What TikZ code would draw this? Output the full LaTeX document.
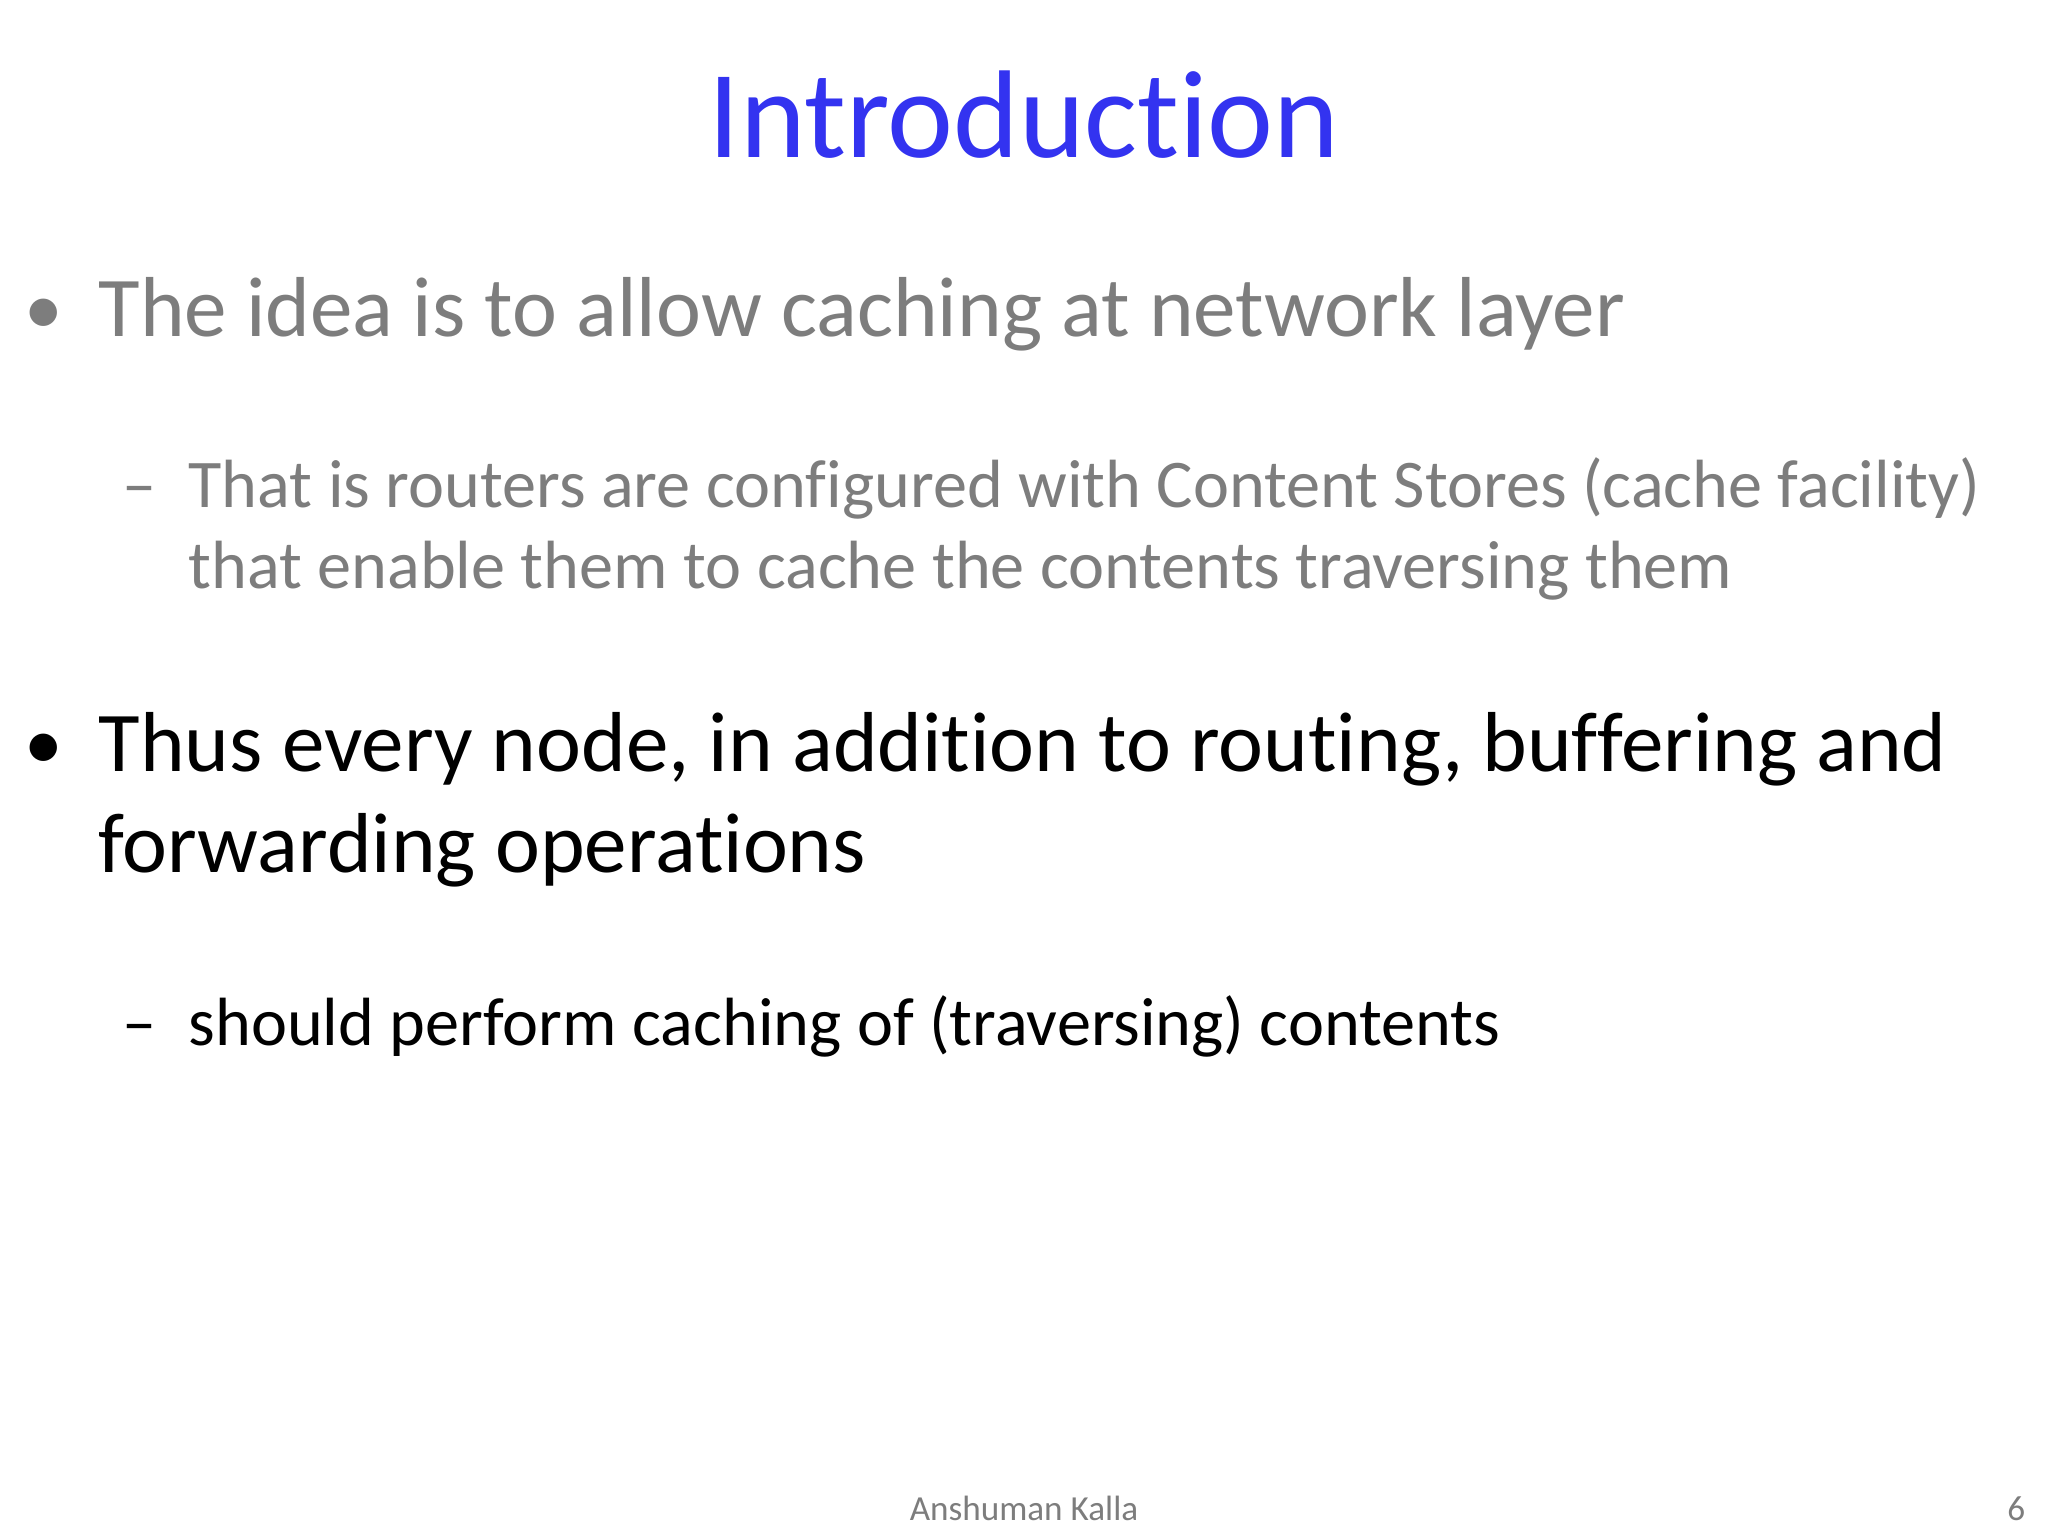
\documentclass[tikz,border=0pt]{standalone}
\usepackage{fontspec}
\setmainfont{Carlito}[Ligatures=NoCommon]
\definecolor{ttl}{RGB}{51,51,240}
\definecolor{gry}{RGB}{125,125,125}
\begin{document}
\begin{tikzpicture}[x=0.01cm,y=-0.01cm,
  txt/.style={anchor=base west,inner sep=0pt,align=left}]
\useasboundingbox (0,0) rectangle (2048,1536);
\fill[white] (0,0) rectangle (2048,1536);
\node[anchor=base,inner sep=0pt,text=ttl,font=\fontsize{35.5}{40}\selectfont] (title) at (1024,157) {Introduction};
\node[txt,text=gry,font=\fontsize{22}{30}\selectfont] (b1d) at (24,334) {•};
\node[txt,text=gry,font=\fontsize{24.2}{30}\selectfont] (b1) at (98,336) {The idea is to allow caching at network layer};
\node[txt,text=gry,font=\fontsize{19.4}{26}\selectfont] (s1d) at (122,507) {–};
\node[txt,text=gry,font=\fontsize{19.4}{23}\selectfont] (s1a) at (188,507) {That is routers are configured with Content Stores (cache facility)};
\node[txt,text=gry,font=\fontsize{19.4}{23}\selectfont] (s1b) at (188,588) {that enable them to cache the contents traversing them};
\node[txt,font=\fontsize{22}{30}\selectfont] (b2d) at (24,769) {•};
\node[txt,font=\fontsize{24.2}{30}\selectfont] (b2a) at (98,771) {Thus every node, in addition to routing, buffering and};
\node[txt,font=\fontsize{24.2}{30}\selectfont] (b2b) at (98,872) {forwarding operations};
\node[txt,font=\fontsize{19.4}{26}\selectfont] (s2d) at (122,1045) {–};
\node[txt,font=\fontsize{19.4}{26}\selectfont] (s2) at (188,1045) {should perform caching of (traversing) contents};
\node[anchor=base,inner sep=0pt,text=gry,font=\fontsize{10}{12}\selectfont] (ft) at (1024,1520) {Anshuman Kalla};
\node[anchor=base east,inner sep=0pt,text=gry,font=\fontsize{10}{12}\selectfont] (pg) at (2026,1520) {6};
\end{tikzpicture}
\end{document}
